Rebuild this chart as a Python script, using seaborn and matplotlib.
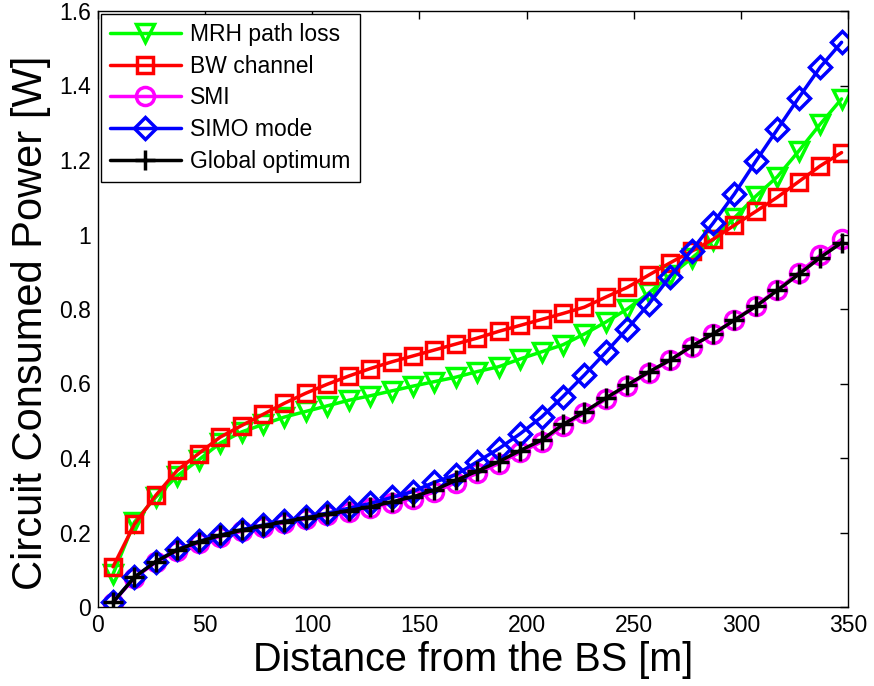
import numpy as np
import pandas as pd
import matplotlib
matplotlib.use("Agg")
import matplotlib.pyplot as plt
import seaborn as sns

distance = list(range(7, 348, 10))

mrh_path_loss = [0.088, 0.228, 0.295, 0.352, 0.395, 0.440, 0.470, 0.490, 0.510, 0.525,
                 0.540, 0.555, 0.567, 0.580, 0.593, 0.605, 0.617, 0.632, 0.645, 0.666,
                 0.685, 0.704, 0.733, 0.765, 0.800, 0.843, 0.890, 0.936, 0.985, 1.045,
                 1.103, 1.155, 1.224, 1.296, 1.364]
bw_channel = [0.108, 0.222, 0.300, 0.367, 0.412, 0.456, 0.487, 0.517, 0.547, 0.574,
              0.598, 0.620, 0.640, 0.658, 0.674, 0.690, 0.706, 0.722, 0.740, 0.756,
              0.772, 0.788, 0.805, 0.832, 0.858, 0.891, 0.924, 0.955, 0.987, 1.025,
              1.062, 1.100, 1.142, 1.184, 1.220]
smi = [0.012, 0.078, 0.120, 0.151, 0.172, 0.189, 0.203, 0.215, 0.226, 0.236,
       0.246, 0.256, 0.266, 0.278, 0.291, 0.308, 0.334, 0.359, 0.385, 0.415,
       0.443, 0.486, 0.520, 0.558, 0.594, 0.629, 0.662, 0.699, 0.733, 0.771,
       0.809, 0.852, 0.897, 0.944, 0.987]
simo_mode = [0.013, 0.080, 0.122, 0.155, 0.176, 0.193, 0.208, 0.220, 0.231, 0.241,
             0.252, 0.265, 0.278, 0.294, 0.310, 0.335, 0.355, 0.390, 0.425, 0.465,
             0.510, 0.565, 0.623, 0.684, 0.747, 0.813, 0.887, 0.957, 1.030, 1.109,
             1.197, 1.282, 1.367, 1.449, 1.516]
global_optimum = [0.013, 0.080, 0.122, 0.153, 0.175, 0.192, 0.206, 0.218, 0.229, 0.239,
                  0.249, 0.259, 0.269, 0.282, 0.296, 0.314, 0.340, 0.365, 0.390, 0.420,
                  0.448, 0.490, 0.524, 0.561, 0.596, 0.631, 0.663, 0.700, 0.733, 0.770,
                  0.807, 0.850, 0.893, 0.938, 0.978]

series_names = ["MRH path loss", "BW channel", "SMI", "SIMO mode", "Global optimum"]
x_ticks = [0, 50, 100, 150, 200, 250, 300, 350]
y_ticks = [0, 0.2, 0.4, 0.6, 0.8, 1.0, 1.2, 1.4, 1.6]
y_tick_labels = ["0", "0.2", "0.4", "0.6", "0.8", "1", "1.2", "1.4", "1.6"]

sns.set_theme(style="white")
plt.rcParams['font.family'] = ['Liberation Sans', 'DejaVu Sans']
plt.rcParams['text.color'] = 'black'
plt.rcParams['axes.labelcolor'] = 'black'
plt.rcParams['xtick.color'] = 'black'
plt.rcParams['ytick.color'] = 'black'

fig = plt.figure(figsize=(8.74, 6.86), dpi=100)
ax = fig.add_axes([98/874, 79/686, 750/874, 596/686])

styles = [
    dict(color=(0, 1, 0), marker="v", ms=13),
    dict(color=(1, 0, 0), marker="s", ms=12),
    dict(color=(1, 0, 1), marker="o", ms=13),
    dict(color=(0, 0, 1), marker="D", ms=11),
    dict(color=(0, 0, 0), marker="+", ms=15),
]
data = [mrh_path_loss, bw_channel, smi, simo_mode, global_optimum]

for name, vals, st in zip(series_names, data, styles):
    df = pd.DataFrame({"distance": distance, "power": vals})
    sns.lineplot(data=df, x="distance", y="power", ax=ax, color=st["color"],
                 marker=st["marker"], markersize=st["ms"], markerfacecolor="none",
                 markeredgecolor=st["color"], markeredgewidth=2.5, linewidth=2.5,
                 label=name)

ax.set_xlim(0, 350)
ax.set_ylim(0, 1.6)
ax.set_xticks(x_ticks)
ax.set_yticks(y_ticks)
ax.set_yticklabels(y_tick_labels)
ax.tick_params(direction="in", length=6, width=1, top=True, right=True,
               labelsize=16.5, colors="black", labelcolor="black", pad=5)
for sp in ax.spines.values():
    sp.set_color("black")
    sp.set_linewidth(1.0)
ax.set_xlabel("Distance from the BS [m]", fontsize=28.5, labelpad=3, color="black")
ax.set_ylabel("Circuit Consumed Power [W]", fontsize=30, color="black")
ax.yaxis.set_label_coords(-0.062, 0.477)

leg = ax.legend(loc="upper left", fontsize=16.5, frameon=True, fancybox=False,
                edgecolor="black", framealpha=1, borderaxespad=0.12,
                handlelength=3.1, labelspacing=0.38, borderpad=0.4,
                handletextpad=0.4)
leg.get_frame().set_linewidth(1.0)
for t in leg.get_texts():
    t.set_color("black")

fig.savefig("out.png", dpi=100)
